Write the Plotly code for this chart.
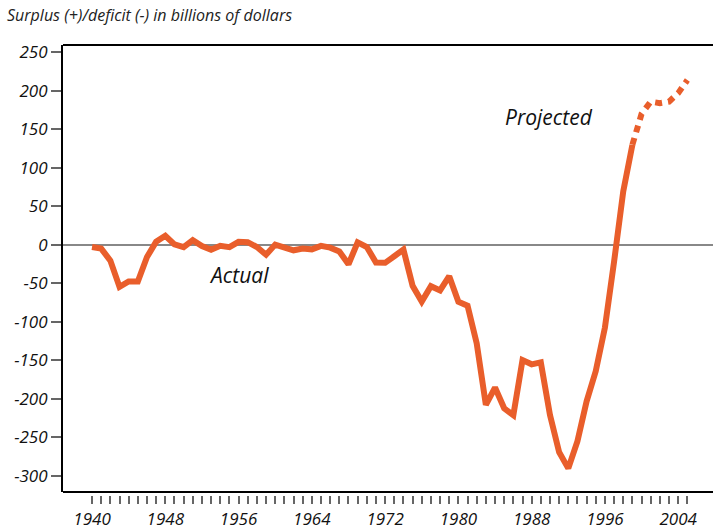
import plotly.graph_objects as go

# ── Data (billions of dollars) ─────────────────────────────
actual_years = list(range(1940, 2000))
actual_values = [
    -2.9, -4.9, -20.5, -54.6, -47.6, -47.6, -15.9, 4.0, 11.8, 0.6,
    -3.1, 6.1, -1.5, -6.5, -1.2, -3.0, 3.9, 3.4, -2.8, -12.8,
    0.3, -3.3, -7.1, -4.8, -5.9, -1.4, -3.7, -8.6, -25.2, 3.2,
    -2.8, -23.0, -23.4, -14.9, -6.1, -53.2, -73.7, -53.7, -59.2, -40.7,
    -73.8, -79.0, -128.0, -207.8, -185.4, -212.3, -221.2, -149.7, -155.2, -152.6,
    -221.0, -269.2, -290.3, -255.1, -203.2, -164.0, -107.4, -21.9, 69.3, 130.0,
]
proj_years = [1999, 2000, 2001, 2002, 2003, 2004, 2005]
proj_values = [130.0, 170.0, 186.0, 184.0, 186.0, 197.0, 214.0]

y_ticks = [250, 200, 150, 100, 50, 0, -50, -100, -150, -200, -250, -300]
y_tick_text = ["250", "200", "150", "100", "50", "0",
               "-50", "-100", "-150", "-200", "-250", "-300"]
x_tick_years = list(range(1940, 2006))
x_tick_text = [str(y) if (y - 1940) % 8 == 0 else "" for y in x_tick_years]

ORANGE = "#E95E2B"
FONT = "Open Sans, Noto Sans, sans-serif"

fig = go.Figure()

fig.add_trace(go.Scatter(
    x=actual_years, y=actual_values, mode="lines",
    line=dict(color=ORANGE, width=6), hoverinfo="skip",
))
fig.add_trace(go.Scatter(
    x=proj_years, y=proj_values, mode="lines",
    line=dict(color=ORANGE, width=6, dash="7px,6px"), hoverinfo="skip",
))

fig.add_annotation(x=1956.0, y=-39, text="Actual", showarrow=False,
                   font=dict(family=FONT, size=21, color="#111", style="italic"))
fig.add_annotation(x=1989.9, y=166, text="Projected", showarrow=False,
                   font=dict(family=FONT, size=21, color="#111", style="italic"))

# frame lines: top and bottom
for yd in (0, 1):
    fig.add_shape(type="line", xref="paper", yref="y domain",
                  x0=0, x1=1, y0=yd, y1=yd,
                  line=dict(color="black", width=2), layer="above")

plot_h = 529 - 45 - 34

fig.update_layout(
    width=713, height=529,
    margin=dict(l=63, r=0, t=45, b=34, autoexpand=False),
    paper_bgcolor="white", plot_bgcolor="white",
    showlegend=False,
    title=dict(
        text="Surplus (+)/deficit (-) in billions of dollars",
        x=7 / 713, xanchor="left", y=1 - 15 / 529, yanchor="middle",
        font=dict(family=FONT, size=16, color="#222", style="italic"),
    ),
    xaxis=dict(
        range=[1936.83, 2007.8], anchor="free", position=0,
        automargin=False,
        showline=False, showgrid=False, zeroline=False,
        tickmode="array", tickvals=x_tick_years, ticktext=x_tick_text,
        ticks="outside", ticklen=8, tickwidth=1.5, tickcolor="#666",
        ticklabelstandoff=1,
        tickfont=dict(family=FONT, size=17, color="#111", style="italic"),
    ),
    yaxis=dict(
        range=[-321, 259.5], domain=[3 / plot_h, 1],
        automargin=False,
        showline=True, linecolor="black", linewidth=2,
        showgrid=False,
        zeroline=True, zerolinecolor="#888", zerolinewidth=1.5,
        tickmode="array", tickvals=y_ticks, ticktext=y_tick_text,
        ticks="outside", ticklen=10, tickwidth=1.5, tickcolor="#666",
        tickfont=dict(family=FONT, size=17, color="#111", style="italic"),
    ),
)

fig.write_html("out.html", config={"displayModeBar": False},
               post_script="document.body.style.margin='0';")
